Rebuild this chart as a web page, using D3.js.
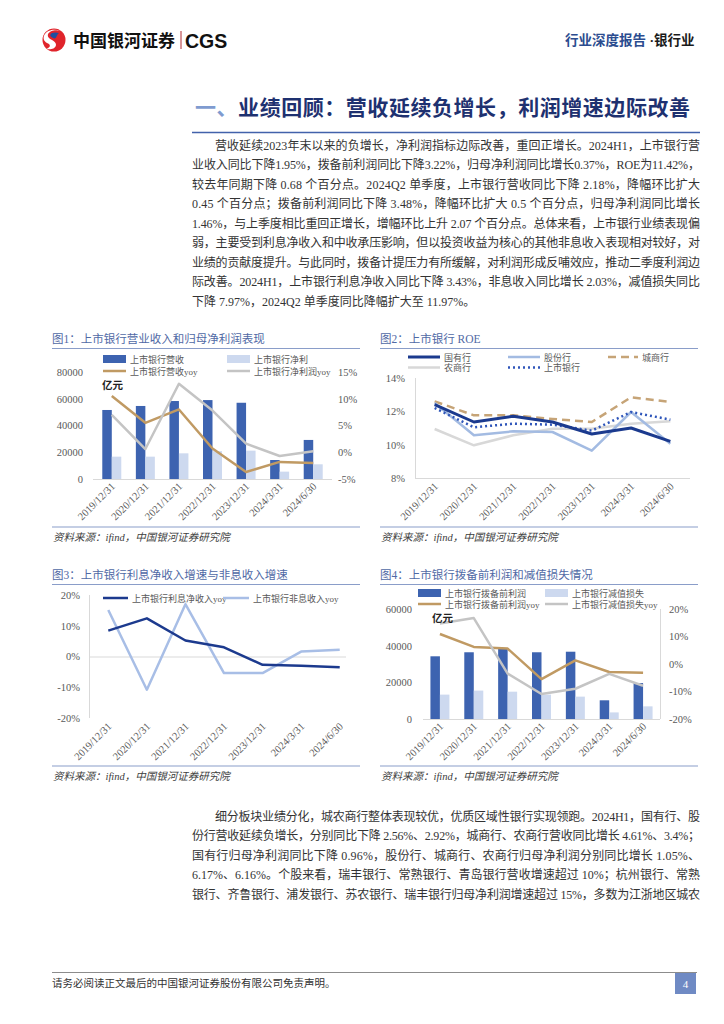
<!DOCTYPE html>
<html><head><meta charset="utf-8">
<script src="https://cdn.jsdelivr.net/npm/d3@7"></script>
<style>body{margin:0;background:#fff}svg{display:block}</style>
</head><body><svg id="c" width="724" height="1024"></svg>
<script>
// ---------------- DATA ----------------
const categories = ["2019/12/31","2020/12/31","2021/12/31","2022/12/31","2023/12/31","2024/3/31","2024/6/30"];
// Fig 1 (亿元, %)
const revenue      = [51600,54600,58300,59000,57000,14200,29200];
const netProfit    = [16700,16700,19200,20800,21200,5500,11000];
const revenueYoy   = [10.5,5.5,8.0,0.7,-3.7,-1.8,-2.0];
const netProfitYoy = [7.0,0.6,12.8,7.8,1.6,-0.7,0.2];
const fig1LeftTicks  = [0,20000,40000,60000,80000];
const fig1RightTicks = [-5,0,5,10,15];
// Fig 2 ROE (%)
const roeState  = [12.4,11.36,11.7,11.36,10.64,11.0,10.2];
const roeJoint  = [12.5,10.56,10.8,10.76,9.64,11.96,10.06];
const roeCity   = [12.6,11.76,11.76,11.54,11.36,12.84,12.56];
const roeRural  = [10.94,9.96,10.56,10.96,10.96,11.26,11.4];
const roeListed = [12.2,11.04,11.26,11.2,10.84,11.96,11.5];
const fig2Ticks = [8,10,12,14];
// Fig 3 (%)
const nimIncomeYoy    = [8.4,12.4,5.2,3.0,-2.7,-3.0,-3.5];
const nonInterestYoy  = [15.1,-10.8,17.0,-5.4,-5.4,1.6,2.2];
const fig3Ticks = [-20,-10,0,10,20];
// Fig 4 (亿元, %)
const ppop          = [34200,36400,38200,36400,36700,10200,19600];
const impairment    = [13300,15500,14900,13300,12200,3600,6900];
const ppopYoy       = [10.9,6.2,5.6,-5.5,1.3,-2.9,-3.2];
const impairmentYoy = [14.7,16.7,-3.5,-10.9,-9.0,-3.6,-7.9];
const fig4LeftTicks  = [0,20000,40000,60000];
const fig4RightTicks = [-20,-10,0,10,20];
const fig4RightLabels = ["-20%","-10%","0%","10%","20%"];

const para1 = [
 "营收延续2023年末以来的负增长，净利润指标边际改善，重回正增长。2024H1，上市银行营",
 "业收入同比下降1.95%，拨备前利润同比下降3.22%，归母净利润同比增长0.37%，ROE为11.42%，",
 "较去年同期下降 0.68 个百分点。2024Q2 单季度，上市银行营收同比下降 2.18%，降幅环比扩大",
 "0.45 个百分点；拨备前利润同比下降 3.48%，降幅环比扩大 0.5 个百分点，归母净利润同比增长",
 "1.46%，与上季度相比重回正增长，增幅环比上升 2.07 个百分点。总体来看，上市银行业绩表现偏",
 "弱，主要受到利息净收入和中收承压影响，但以投资收益为核心的其他非息收入表现相对较好，对",
 "业绩的贡献度提升。与此同时，拨备计提压力有所缓解，对利润形成反哺效应，推动二季度利润边",
 "际改善。2024H1，上市银行利息净收入同比下降 3.43%，非息收入同比增长 2.03%，减值损失同比",
 "下降 7.97%，2024Q2 单季度同比降幅扩大至 11.97%。"
];
const para2 = [
 "细分板块业绩分化，城农商行整体表现较优，优质区域性银行实现领跑。2024H1，国有行、股",
 "份行营收延续负增长，分别同比下降 2.56%、2.92%，城商行、农商行营收同比增长 4.61%、3.4%；",
 "国有行归母净利润同比下降 0.96%，股份行、城商行、农商行归母净利润分别同比增长 1.05%、",
 "6.17%、6.16%。个股来看，瑞丰银行、常熟银行、青岛银行营收增速超过 10%；杭州银行、常熟",
 "银行、齐鲁银行、浦发银行、苏农银行、瑞丰银行归母净利润增速超过 15%，多数为江浙地区城农"
];

// ---------------- STYLE ----------------
const SERIF = "'Liberation Serif','Noto Sans CJK SC',serif";
const SANS = "'Noto Sans CJK SC','Liberation Sans',sans-serif";
const C = {
  barDark:"#3d63b0", barLight:"#cdd9ef", tan:"#c09a63", gray:"#c4c4c4",
  state:"#1b3a8e", joint:"#a3bbe2", city:"#c6a477", rural:"#d8d8d8", listed:"#2f56ba",
  nim:"#1c3a8e", nonint:"#a8bee6",
  figTitle:"#5069a5", figRule:"#8a9dc9", axis:"#595959", grid:"#d9d9d9", body:"#333333"
};
const LEG_FS = 9;
const svg = d3.select("#c");

// ---------------- HEADER ----------------
const logo = svg.append("g");
logo.append("circle").attr("cx",54).attr("cy",40).attr("r",11.5).attr("fill","#e0242b");
logo.append("path").attr("d","M61,31 C50,28 43,36 52,40 C60,44 55,51 46,49 C52,47 50,44 47,43 C39,39 46,26 61,31 Z").attr("fill","#fff");
logo.append("path").attr("d","M59,33 C52,31 47,35 53,38 C57,40 56,35 59,33 Z").attr("fill","#1d4fa0");
svg.append("text").attr("x",73).attr("y",46.5).attr("font-family",SANS).attr("font-weight",700)
  .attr("font-size",17).attr("fill","#111").text("中国银河证券");
svg.append("line").attr("x1",181).attr("x2",181).attr("y1",31).attr("y2",49).attr("stroke","#b02a30").attr("stroke-width",1);
svg.append("text").attr("x",185).attr("y",47.5).attr("font-family","'Liberation Sans',Arial,sans-serif").attr("font-weight",700)
  .attr("font-size",19.5).attr("fill","#111").text("CGS");
const hr = svg.append("text").attr("x",565).attr("y",45).attr("font-family",SERIF).attr("font-weight",700).attr("font-size",13.5);
hr.append("tspan").attr("fill","#2b4c8f").text("行业深度报告");
hr.append("tspan").attr("fill","#1a1a1a").text(" ·银行业");

// ---------------- SECTION TITLE ----------------
const tt = svg.append("text").attr("x",195).attr("y",115).attr("font-family",SERIF).attr("font-weight",700)
  .attr("font-size",21).attr("textLength",495).attr("lengthAdjust","spacing");
tt.append("tspan").attr("fill","#7f9bd0").text("一、");
tt.append("tspan").attr("fill","#1e3170").text("业绩回顾：营收延续负增长，利润增速边际改善");
svg.append("line").attr("x1",192).attr("x2",700).attr("y1",132.5).attr("y2",132.5).attr("stroke","#4262ab").attr("stroke-width",1.5);

// ---------------- PARAGRAPHS ----------------
function paragraph(lines, y0, lh){
  lines.forEach((t,i)=>{
    const x = i===0 ? 215 : 192;
    const el = svg.append("text").attr("x",x).attr("y",y0+i*lh).attr("font-family",SERIF)
      .attr("font-size",12).attr("fill",C.body).text(t);
    if(i<lines.length-1 || lines.length===5) el.attr("textLength",700-x).attr("lengthAdjust","spacing");
  });
}
paragraph(para1,149.5,19.5);
paragraph(para2,820.5,19.5);

// ---------------- FIGURE HELPERS ----------------
function frame(x0,x1,titleY,title,bottomY){
  svg.append("text").attr("x",x0).attr("y",titleY+4).attr("font-family",SERIF).attr("font-size",11.5)
    .attr("fill",C.figTitle).text(title);
  svg.append("line").attr("x1",x0).attr("x2",x1).attr("y1",titleY+9.5).attr("y2",titleY+9.5).attr("stroke",C.figRule).attr("stroke-width",1.2);
  svg.append("line").attr("x1",x0).attr("x2",x1).attr("y1",bottomY).attr("y2",bottomY).attr("stroke",C.figRule).attr("stroke-width",1.2);
  svg.append("text").attr("x",x0+1).attr("y",bottomY+14).attr("font-family",SERIF).attr("font-size",10.5)
    .attr("font-style","italic").attr("fill","#404040").text("资料来源：ifind，中国银河证券研究院");
}
function styleAxis(g){
  g.select(".domain").remove();
  g.selectAll("text").attr("font-family",SERIF).attr("font-size",10.5).attr("fill",C.axis);
}
function xLabels(xpos, y){
  categories.forEach(c=>{
    svg.append("text").attr("transform",`translate(${xpos(c)+4},${y}) rotate(-45)`)
      .attr("text-anchor","end").attr("font-family",SERIF).attr("font-size",10.5).attr("fill",C.axis).text(c);
  });
}
function legendBar(x,y,color,label){
  svg.append("rect").attr("x",x).attr("y",y-4).attr("width",23).attr("height",8).attr("fill",color);
  svg.append("text").attr("x",x+27).attr("y",y+3.5).attr("font-family",SERIF).attr("font-size",LEG_FS).attr("fill",C.axis).text(label);
}
function legendLine(x,y,color,label,w,dash,len){
  svg.append("line").attr("x1",x).attr("x2",x+(len||23)).attr("y1",y).attr("y2",y).attr("stroke",color)
    .attr("stroke-width",w||2.5).attr("stroke-dasharray",dash||null);
  svg.append("text").attr("x",x+(len||23)+4).attr("y",y+3.5).attr("font-family",SERIF).attr("font-size",LEG_FS).attr("fill",C.axis).text(label);
}
function drawLine(data,xf,yf,color,w,dash){
  svg.append("path").datum(data).attr("fill","none").attr("stroke",color).attr("stroke-width",w)
    .attr("stroke-linejoin","round").attr("stroke-dasharray",dash||null)
    .attr("d",d3.line().x((d,i)=>xf(categories[i])).y(d=>yf(d)));
}

// ---------------- FIG 1 ----------------
frame(52,360,339,"图1：上市银行营业收入和归母净利润表现",527);
{
  const x = d3.scaleBand().domain(categories).range([95,330]);
  const cx = c=>x(c)+x.bandwidth()/2;
  const yL = d3.scaleLinear().domain([0,80000]).range([479,372]);
  const yR = d3.scaleLinear().domain([-5,15]).range([479,372]);
  const bw = 9.5;
  svg.append("g").attr("transform","translate(87,0)").call(d3.axisLeft(yL).tickValues(fig1LeftTicks).tickSize(0).tickPadding(4).tickFormat(d3.format("d"))).call(styleAxis);
  svg.append("g").attr("transform","translate(332,0)").call(d3.axisRight(yR).tickValues(fig1RightTicks).tickSize(0).tickPadding(6).tickFormat(d=>d+"%")).call(styleAxis);
  svg.selectAll(".b1a").data(revenue).enter().append("rect").attr("x",(d,i)=>cx(categories[i])-bw).attr("width",bw)
    .attr("y",d=>yL(d)).attr("height",d=>yL(0)-yL(d)).attr("fill",C.barDark);
  svg.selectAll(".b1b").data(netProfit).enter().append("rect").attr("x",(d,i)=>cx(categories[i])).attr("width",bw)
    .attr("y",d=>yL(d)).attr("height",d=>yL(0)-yL(d)).attr("fill",C.barLight);
  svg.append("line").attr("x1",93).attr("x2",332).attr("y1",479.5).attr("y2",479.5).attr("stroke",C.grid);
  drawLine(revenueYoy,cx,yR,C.tan,2.5);
  drawLine(netProfitYoy,cx,yR,C.gray,2.5);
  xLabels(cx,487);
  legendBar(103,359,C.barDark,"上市银行营收");
  legendBar(227,359,C.barLight,"上市银行净利");
  legendLine(103,371,C.tan,"上市银行营收yoy");
  legendLine(227,371,C.gray,"上市银行净利润yoy");
  svg.append("text").attr("x",102).attr("y",389).attr("font-family",SANS).attr("font-weight",700).attr("font-size",10.5).attr("fill","#222").text("亿元");
}

// ---------------- FIG 2 ----------------
frame(380,698,339,"图2：上市银行 ROE",527);
{
  const x = d3.scaleBand().domain(categories).range([415,690]);
  const cx = c=>x(c)+x.bandwidth()/2;
  const y = d3.scaleLinear().domain([8,14]).range([478,378]);
  svg.append("g").attr("transform","translate(409,0)").call(d3.axisLeft(y).tickValues(fig2Ticks).tickSize(0).tickPadding(4).tickFormat(d=>d+"%")).call(styleAxis);
  svg.append("line").attr("x1",415.5).attr("x2",415.5).attr("y1",378).attr("y2",478).attr("stroke",C.grid);
  svg.append("line").attr("x1",415).attr("x2",690).attr("y1",478.5).attr("y2",478.5).attr("stroke",C.grid);
  drawLine(roeRural,cx,y,C.rural,2.5);
  drawLine(roeCity,cx,y,C.city,2.5,"8,5");
  drawLine(roeJoint,cx,y,C.joint,2.5);
  drawLine(roeListed,cx,y,C.listed,2.5,"2,3");
  drawLine(roeState,cx,y,C.state,3);
  xLabels(cx,487);
  legendLine(408,357,C.state,"国有行",3,null,32);
  legendLine(508,357,C.joint,"股份行",2.5,null,32);
  legendLine(608,357,C.city,"城商行",2.5,"8,5",30);
  legendLine(408,367.5,C.rural,"农商行",2.5,null,32);
  legendLine(508,367.5,C.listed,"上市银行",2.5,"2,3",32);
}

// ---------------- FIG 3 ----------------
frame(52,360,575,"图3：上市银行利息净收入增速与非息收入增速",766);
{
  const x = d3.scaleBand().domain(categories).range([89,359]);
  const cx = c=>x(c)+x.bandwidth()/2;
  const y = d3.scaleLinear().domain([-20,20]).range([718,595]);
  svg.append("g").attr("transform","translate(84,0)").call(d3.axisLeft(y).tickValues(fig3Ticks).tickSize(0).tickPadding(4).tickFormat(d=>d+"%")).call(styleAxis);
  svg.append("line").attr("x1",89.5).attr("x2",89.5).attr("y1",595).attr("y2",718).attr("stroke",C.grid);
  svg.append("line").attr("x1",89).attr("x2",346).attr("y1",y(0)+0.5).attr("y2",y(0)+0.5).attr("stroke",C.grid);
  drawLine(nonInterestYoy,cx,y,C.nonint,2.5);
  drawLine(nimIncomeYoy,cx,y,C.nim,2.5);
  xLabels(cx,727);
  legendLine(103,598,C.nim,"上市银行利息净收入yoy",2.5,null,25);
  legendLine(223,598,C.nonint,"上市银行非息收入yoy",2.5,null,26);
}

// ---------------- FIG 4 ----------------
frame(380,698,575,"图4：上市银行拨备前利润和减值损失情况",766);
{
  const x = d3.scaleBand().domain(categories).range([423,660]);
  const cx = c=>x(c)+x.bandwidth()/2;
  const yL = d3.scaleLinear().domain([0,60000]).range([719,609]);
  const yR = d3.scaleLinear().domain([-20,20]).range([719,609]);
  const bw = 9.5;
  svg.append("g").attr("transform","translate(416,0)").call(d3.axisLeft(yL).tickValues(fig4LeftTicks).tickSize(0).tickPadding(4).tickFormat(d3.format("d"))).call(styleAxis);
  svg.append("g").attr("transform","translate(660,0)").call(d3.axisRight(yR).tickValues(fig4RightTicks).tickSize(0).tickPadding(9).tickFormat((d,i)=>fig4RightLabels[i])).call(styleAxis);
  svg.append("line").attr("x1",660.5).attr("x2",660.5).attr("y1",609).attr("y2",719).attr("stroke",C.grid);
  svg.selectAll(".b4a").data(ppop).enter().append("rect").attr("x",(d,i)=>cx(categories[i])-bw).attr("width",bw)
    .attr("y",d=>yL(d)).attr("height",d=>yL(0)-yL(d)).attr("fill",C.barDark);
  svg.selectAll(".b4b").data(impairment).enter().append("rect").attr("x",(d,i)=>cx(categories[i])).attr("width",bw)
    .attr("y",d=>yL(d)).attr("height",d=>yL(0)-yL(d)).attr("fill",C.barLight);
  svg.append("line").attr("x1",423).attr("x2",660).attr("y1",719.5).attr("y2",719.5).attr("stroke",C.grid);
  drawLine(ppopYoy,cx,yR,C.tan,2.5);
  drawLine(impairmentYoy,cx,yR,C.gray,2.5);
  xLabels(cx,727);
  legendBar(418,593,C.barDark,"上市银行拨备前利润");
  legendBar(545,593,C.barLight,"上市银行减值损失");
  legendLine(418,604,C.tan,"上市银行拨备前利润yoy");
  legendLine(545,604,C.gray,"上市银行减值损失yoy");
  svg.append("text").attr("x",432).attr("y",622).attr("font-family",SANS).attr("font-weight",700).attr("font-size",10.5).attr("fill","#222").text("亿元");
}

// ---------------- FOOTER ----------------
svg.append("line").attr("x1",52).attr("x2",697).attr("y1",972.5).attr("y2",972.5).attr("stroke","#8c8c8c").attr("stroke-width",1);
svg.append("text").attr("x",52).attr("y",987).attr("font-family",SANS).attr("font-size",10.5).attr("fill","#333")
  .text("请务必阅读正文最后的中国银河证券股份有限公司免责声明。");
svg.append("rect").attr("x",675).attr("y",973).attr("width",21).attr("height",21).attr("fill","#6f8ac4");
svg.append("text").attr("x",685.5).attr("y",988).attr("text-anchor","middle").attr("font-family",SERIF).attr("font-size",11).attr("fill","#fff").text("4");
</script></body></html>
